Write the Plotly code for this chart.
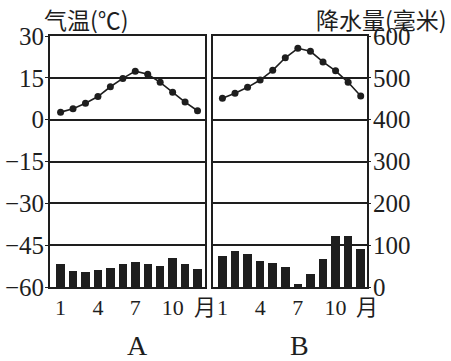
import plotly.graph_objects as go

months = list(range(1, 13))
temp_a = [2.7, 3.9, 5.9, 8.3, 11.8, 14.8, 17.4, 16.3, 13.4, 9.8, 6.3, 3.2]
prec_a = [54, 39, 37, 41, 46, 56, 60, 54, 50, 70, 55, 43]
temp_b = [7.7, 9.5, 11.6, 14.2, 17.7, 22.2, 25.6, 24.5, 20.7, 17.5, 13.4, 8.5]
prec_b = [75, 85, 78, 61, 58, 49, 6, 30, 67, 122, 122, 92]
temp_ticks = [30, 15, 0, -15, -30, -45, -60]
prec_ticks = [600, 500, 400, 300, 200, 100, 0]
month_ticks = [1, 4, 7, 10]

W, H = 451, 361
ink = "#1e1e1e"
serif = "Liberation Serif, Times New Roman, serif"
cjk = "Noto Sans CJK SC, Noto Sans CJK JP, sans-serif"

xa_rng = [0.15, 12.6]
xb_rng = [0.25, 12.5]

fig = go.Figure()
fig.add_trace(go.Bar(x=months, y=prec_a, xaxis="x", yaxis="y3", marker=dict(color=ink, line=dict(width=0)), width=0.68))
fig.add_trace(go.Scatter(x=months, y=temp_a, xaxis="x", yaxis="y", mode="lines+markers",
                         line=dict(color=ink, width=1.6), marker=dict(color=ink, size=7)))
fig.add_trace(go.Bar(x=months, y=prec_b, xaxis="x2", yaxis="y4", marker=dict(color=ink, line=dict(width=0)), width=0.68))
fig.add_trace(go.Scatter(x=months, y=temp_b, xaxis="x2", yaxis="y2", mode="lines+markers",
                         line=dict(color=ink, width=1.6), marker=dict(color=ink, size=7)))

ydom = [1 - 287 / H, 1 - 36 / H]
xtick_font = dict(family=serif + ", " + cjk, size=22, color=ink)

def xaxis(dom, rng):
    return dict(domain=dom, range=rng, tickmode="array", automargin=False,
                tickvals=month_ticks + [rng[1]],
                ticktext=[str(m) for m in month_ticks] + ["月"],
                ticks="", showgrid=False, zeroline=False,
                showline=True, mirror=True, linecolor=ink, linewidth=2,
                tickfont=xtick_font, ticklabelstandoff=0)

tfont = dict(family=serif, size=25, color=ink)

fig.update_layout(
    width=W, height=H, margin=dict(l=0, r=0, t=0, b=0, autoexpand=False),
    paper_bgcolor="white", plot_bgcolor="white", showlegend=False, bargap=0,
    xaxis=xaxis([50 / W, 205 / W], xa_rng),
    xaxis2=xaxis([213 / W, 367 / W], xb_rng),
    yaxis=dict(domain=ydom, range=[-60, 30], anchor="x", tickmode="array", tickvals=temp_ticks,
               ticktext=["−" + str(-v) if v < 0 else str(v) for v in temp_ticks], automargin=False,
               showgrid=True, gridcolor=ink, gridwidth=1.5, zeroline=False,
               showline=True, mirror=True, linecolor=ink, linewidth=2,
               ticks="outside", ticklen=3, tickcolor=ink, tickfont=tfont, ticklabelstandoff=-4),
    yaxis2=dict(domain=ydom, range=[-60, 30], anchor="x2", tickmode="array", tickvals=temp_ticks,
                showticklabels=False, showgrid=True, gridcolor=ink, gridwidth=1.5, zeroline=False,
                showline=True, mirror=True, linecolor=ink, linewidth=2, ticks="", automargin=False),
    yaxis3=dict(range=[0, 600], anchor="x", overlaying="y", showticklabels=False, showgrid=False,
                zeroline=False, ticks="", showline=False, automargin=False),
    yaxis4=dict(range=[0, 600], anchor="x2", overlaying="y2", side="right", tickmode="array",
                tickvals=prec_ticks, showgrid=False, zeroline=False, showline=False, automargin=False,
                ticks="outside", ticklen=3, tickcolor=ink, tickfont=tfont, ticklabelstandoff=-3),
)

fig.add_annotation(text="气温(℃)", xref="paper", yref="paper", x=42 / W, y=1,
                   xanchor="left", yanchor="top", showarrow=False,
                   font=dict(family=cjk, size=23, color=ink))
fig.add_annotation(text="降水量(毫米)", xref="paper", yref="paper", x=449 / W, y=1,
                   xanchor="right", yanchor="top", showarrow=False,
                   font=dict(family=cjk, size=23, color=ink))
fig.add_annotation(text="A", xref="paper", yref="paper", x=137 / W, y=1 - 345 / H,
                   xanchor="center", yanchor="middle", showarrow=False,
                   font=dict(family=serif, size=28, color=ink))
fig.add_annotation(text="B", xref="paper", yref="paper", x=299 / W, y=1 - 345 / H,
                   xanchor="center", yanchor="middle", showarrow=False,
                   font=dict(family=serif, size=28, color=ink))

fig.write_html("out.html")
